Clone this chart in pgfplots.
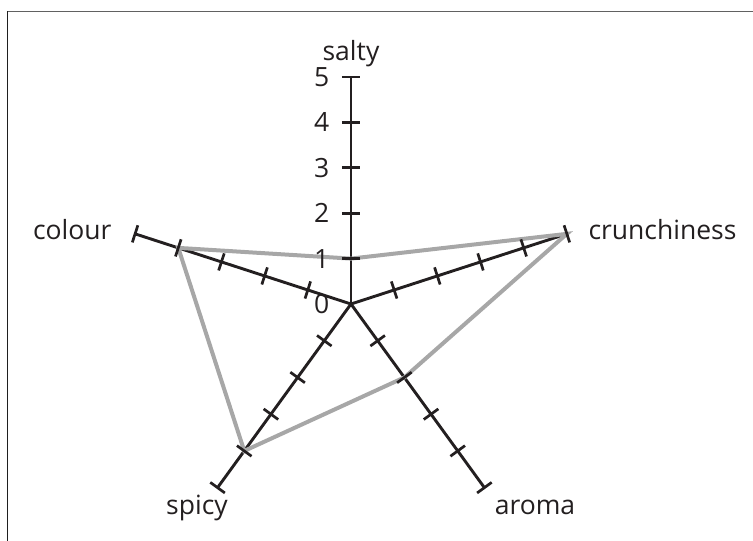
\documentclass[border=0pt]{standalone}
\usepackage{pgfplots}
\pgfplotsset{compat=1.18}
\usepackage{fontspec}
\setmainfont{Open Sans}
\definecolor{spoke}{RGB}{35,31,32}
\definecolor{series}{RGB}{167,167,167}

\begin{document}
\begin{tikzpicture}[font=\fontsize{26.5}{30}\selectfont, text=spoke]
\begin{axis}[
  at={(0,0)}, anchor=south west,
  scale only axis, width=753pt, height=541pt,
  xmin=-7.731, xmax=8.855, ymin=-5.220, ymax=6.696,
  hide axis, clip=false,
]
% frame (top and left edges only are visible)
\addplot[black!62, line width=1.6pt] coordinates {(-7.566,6.443) (9.2,6.443)};
\addplot[black!88, line width=1.6pt] coordinates {(-7.566,-5.6) (-7.566,6.443)};

% spokes and their ticks: salty, crunchiness, aroma, spicy, colour
\pgfplotsinvokeforeach{90,18,-54,-126,162}{
  \addplot[spoke, line width=2.9pt, data cs=polar] coordinates {(#1,0) (#1,5)};
  \addplot[only marks, data cs=polar, mark=|, mark size=9pt,
    mark options={spoke, line width=2.7pt, rotate=#1}]
    coordinates {(#1,1) (#1,2) (#1,3) (#1,4) (#1,5)};
}

% the series
\addplot[series, line width=4pt, data cs=polar] coordinates {
  (90,1) (18,5) (-54,2) (-126,4) (162,4) (90,1)
};

% category labels
\node[anchor=base] at (axis cs:0,5.374) {salty};
\node[anchor=base west] at (axis cs:5.154,1.41) {crunchiness};
\node[anchor=base east] at (axis cs:-5.198,1.41) {colour};
\node[anchor=base] at (axis cs:-3.392,-4.626) {spicy};
\node[anchor=base] at (axis cs:4.053,-4.626) {aroma};

% radial scale
\pgfplotsinvokeforeach{0,...,5}{
  \node[anchor=east] at (axis cs:-0.40,#1) {#1};
}
\end{axis}
\pgfresetboundingbox
\useasboundingbox (0,0) rectangle (753pt,541pt);
\end{tikzpicture}
\end{document}
